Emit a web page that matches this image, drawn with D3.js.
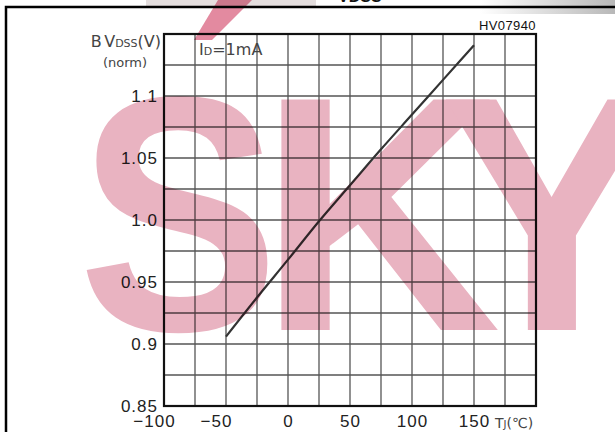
<!DOCTYPE html>
<html><head><meta charset="utf-8">
<script src="https://cdn.jsdelivr.net/npm/d3@7"></script>
<style>body{margin:0;background:#fff}svg{display:block}</style>
</head><body>
<svg id="c" width="615" height="432"></svg>
<script>
// ---- data ----
const temps = [-50, -25, 0, 25, 50, 75, 100, 125, 150];
const bvdss = [0.906, 0.9375, 0.968, 0.999, 1.028, 1.057, 1.085, 1.113, 1.141];
const xTicks = [-100, -50, 0, 50, 100, 150];
const yTicks = [0.85, 0.9, 0.95, 1.0, 1.05, 1.1];
const yTickLabels = ["0.85", "0.9", "0.95", "1.0", "1.05", "1.1"];
const xGridVals = [-100, -75, -50, -25, 0, 25, 50, 75, 100, 125, 150, 175, 200];
const yGridVals = [0.85, 0.875, 0.9, 0.925, 0.95, 0.975, 1.0, 1.025, 1.05, 1.075, 1.1, 1.125, 1.15];
const watermark = ["S", "K", "Y"];

const svg = d3.select("#c");
const W = 615, H = 432;
const m = {l: 164, r: 536, t: 34, b: 406};
const x = d3.scaleLinear().domain([-100, 200]).range([m.l, m.r]);
const y = d3.scaleLinear().domain([0.85, 1.15]).range([m.b, m.t]);

svg.append("rect").attr("width", W).attr("height", H).attr("fill", "#fff");

// header remnants
const defs = svg.append("defs");
const gr = defs.append("linearGradient").attr("id", "gtr").attr("x1", 0).attr("x2", 1).attr("y1", 0).attr("y2", 0);
gr.append("stop").attr("offset", 0).attr("stop-color", "#fff");
gr.append("stop").attr("offset", 1).attr("stop-color", "#b8b8b8");
svg.append("rect").attr("x", 480).attr("y", 0).attr("width", 135).attr("height", 14).attr("fill", "url(#gtr)");
svg.append("rect").attr("x", 146).attr("y", 0).attr("width", 170).attr("height", 6).attr("fill", "#e4dede");
svg.append("text").attr("x", 338).attr("y", 2).attr("font-family", "Liberation Sans, Arial, sans-serif")
  .attr("font-weight", "bold").attr("font-size", 16).attr("fill", "#111").text("VDSS");

// frame
svg.append("path").attr("d", `M6,432 V7 H615`).attr("fill", "none").attr("stroke", "#000").attr("stroke-width", 2.5);

// grid
const g = svg.append("g");
g.selectAll("line.v").data(xGridVals).join("line").attr("class", "v")
  .attr("x1", d => x(d)).attr("x2", d => x(d)).attr("y1", m.t).attr("y2", m.b)
  .attr("stroke", "#555").attr("stroke-width", 1.3);
g.selectAll("line.h").data(yGridVals).join("line").attr("class", "h")
  .attr("y1", d => y(d)).attr("y2", d => y(d)).attr("x1", m.l).attr("x2", m.r)
  .attr("stroke", "#555").attr("stroke-width", 1.3);
// border
g.append("rect").attr("x", m.l).attr("y", m.t).attr("width", m.r - m.l).attr("height", m.b - m.t)
  .attr("fill", "none").attr("stroke", "#111").attr("stroke-width", 2.2);

// data line
const line = d3.line().x((d, i) => x(temps[i])).y(d => y(d)).curve(d3.curveMonotoneX);
svg.append("path").datum(bvdss).attr("d", line).attr("fill", "none")
  .attr("stroke", "#333").attr("stroke-width", 2.2);

// axis labels
const font = "Liberation Sans, Arial, sans-serif";
const xAxis = d3.axisBottom(x).tickValues(xTicks).tickSize(0).tickPadding(0);
const xa = svg.append("g").attr("transform", `translate(0,${m.b})`).call(xAxis);
xa.select(".domain").remove();
xa.selectAll("text").attr("font-family", font).attr("font-size", 17).attr("fill", "#222")
  .attr("letter-spacing", 1).attr("y", 21).attr("dy", 0)
  .attr("dx", d => d < 0 ? -10 : 0);

const yAxis = d3.axisLeft(y).tickValues(yTicks).tickSize(0).tickPadding(6)
  .tickFormat((d, i) => yTickLabels[i]);
const ya = svg.append("g").attr("transform", `translate(${m.l},0)`).call(yAxis);
ya.select(".domain").remove();
ya.selectAll("text").attr("font-family", font).attr("font-size", 17).attr("fill", "#222")
  .attr("letter-spacing", 1).attr("dy", "0.32em");

const thin = "DejaVu Sans, sans-serif";
const yl = svg.append("text").attr("x", 161).attr("y", 47).attr("text-anchor", "end")
  .attr("font-family", thin).attr("font-size", 16).attr("fill", "#444");
yl.append("tspan").text("B");
yl.append("tspan").attr("dx", 3).text("V");
yl.append("tspan").attr("font-size", 11).text("DSS");
yl.append("tspan").text("(V)");
svg.append("text").attr("x", 125).attr("y", 67).attr("text-anchor", "middle")
  .attr("font-family", thin).attr("font-size", 13).attr("fill", "#444").text("(norm)");

const il = svg.append("text").attr("x", 199).attr("y", 55)
  .attr("font-family", thin).attr("font-size", 16).attr("fill", "#444");
il.append("tspan").text("I");
il.append("tspan").attr("font-size", 11).text("D");
il.append("tspan").text("=1mA");

const tl = svg.append("text").attr("x", 495).attr("y", 428)
  .attr("font-family", thin).attr("font-size", 14).attr("fill", "#444");
tl.append("tspan").text("T");
tl.append("tspan").attr("font-size", 10).text("J");
tl.append("tspan").text("(℃)");

svg.append("text").attr("x", 536).attr("y", 30).attr("text-anchor", "end")
  .attr("font-family", font).attr("font-size", 13).attr("fill", "#111").attr("letter-spacing", 0.4)
  .text("HV07940");

// watermark
const wm = svg.append("g").style("mix-blend-mode", "multiply");
const wmX = [78, 259, 440];
const wmSX = [0.9, 1.0, 1.0];
wm.selectAll("text").data(watermark).join("text")
  .attr("transform", (d, i) => `translate(${wmX[i]},330) scale(${wmSX[i]},1)`)
  .attr("font-family", font).attr("font-weight", "bold").attr("font-size", 335)
  .attr("fill", "#e9b3c1").text(d => d);
wm.append("path").attr("d", "M218,0 L252,0 L212,40 L194,40 Z").attr("fill", "#e38aa0");
</script>
</body></html>
